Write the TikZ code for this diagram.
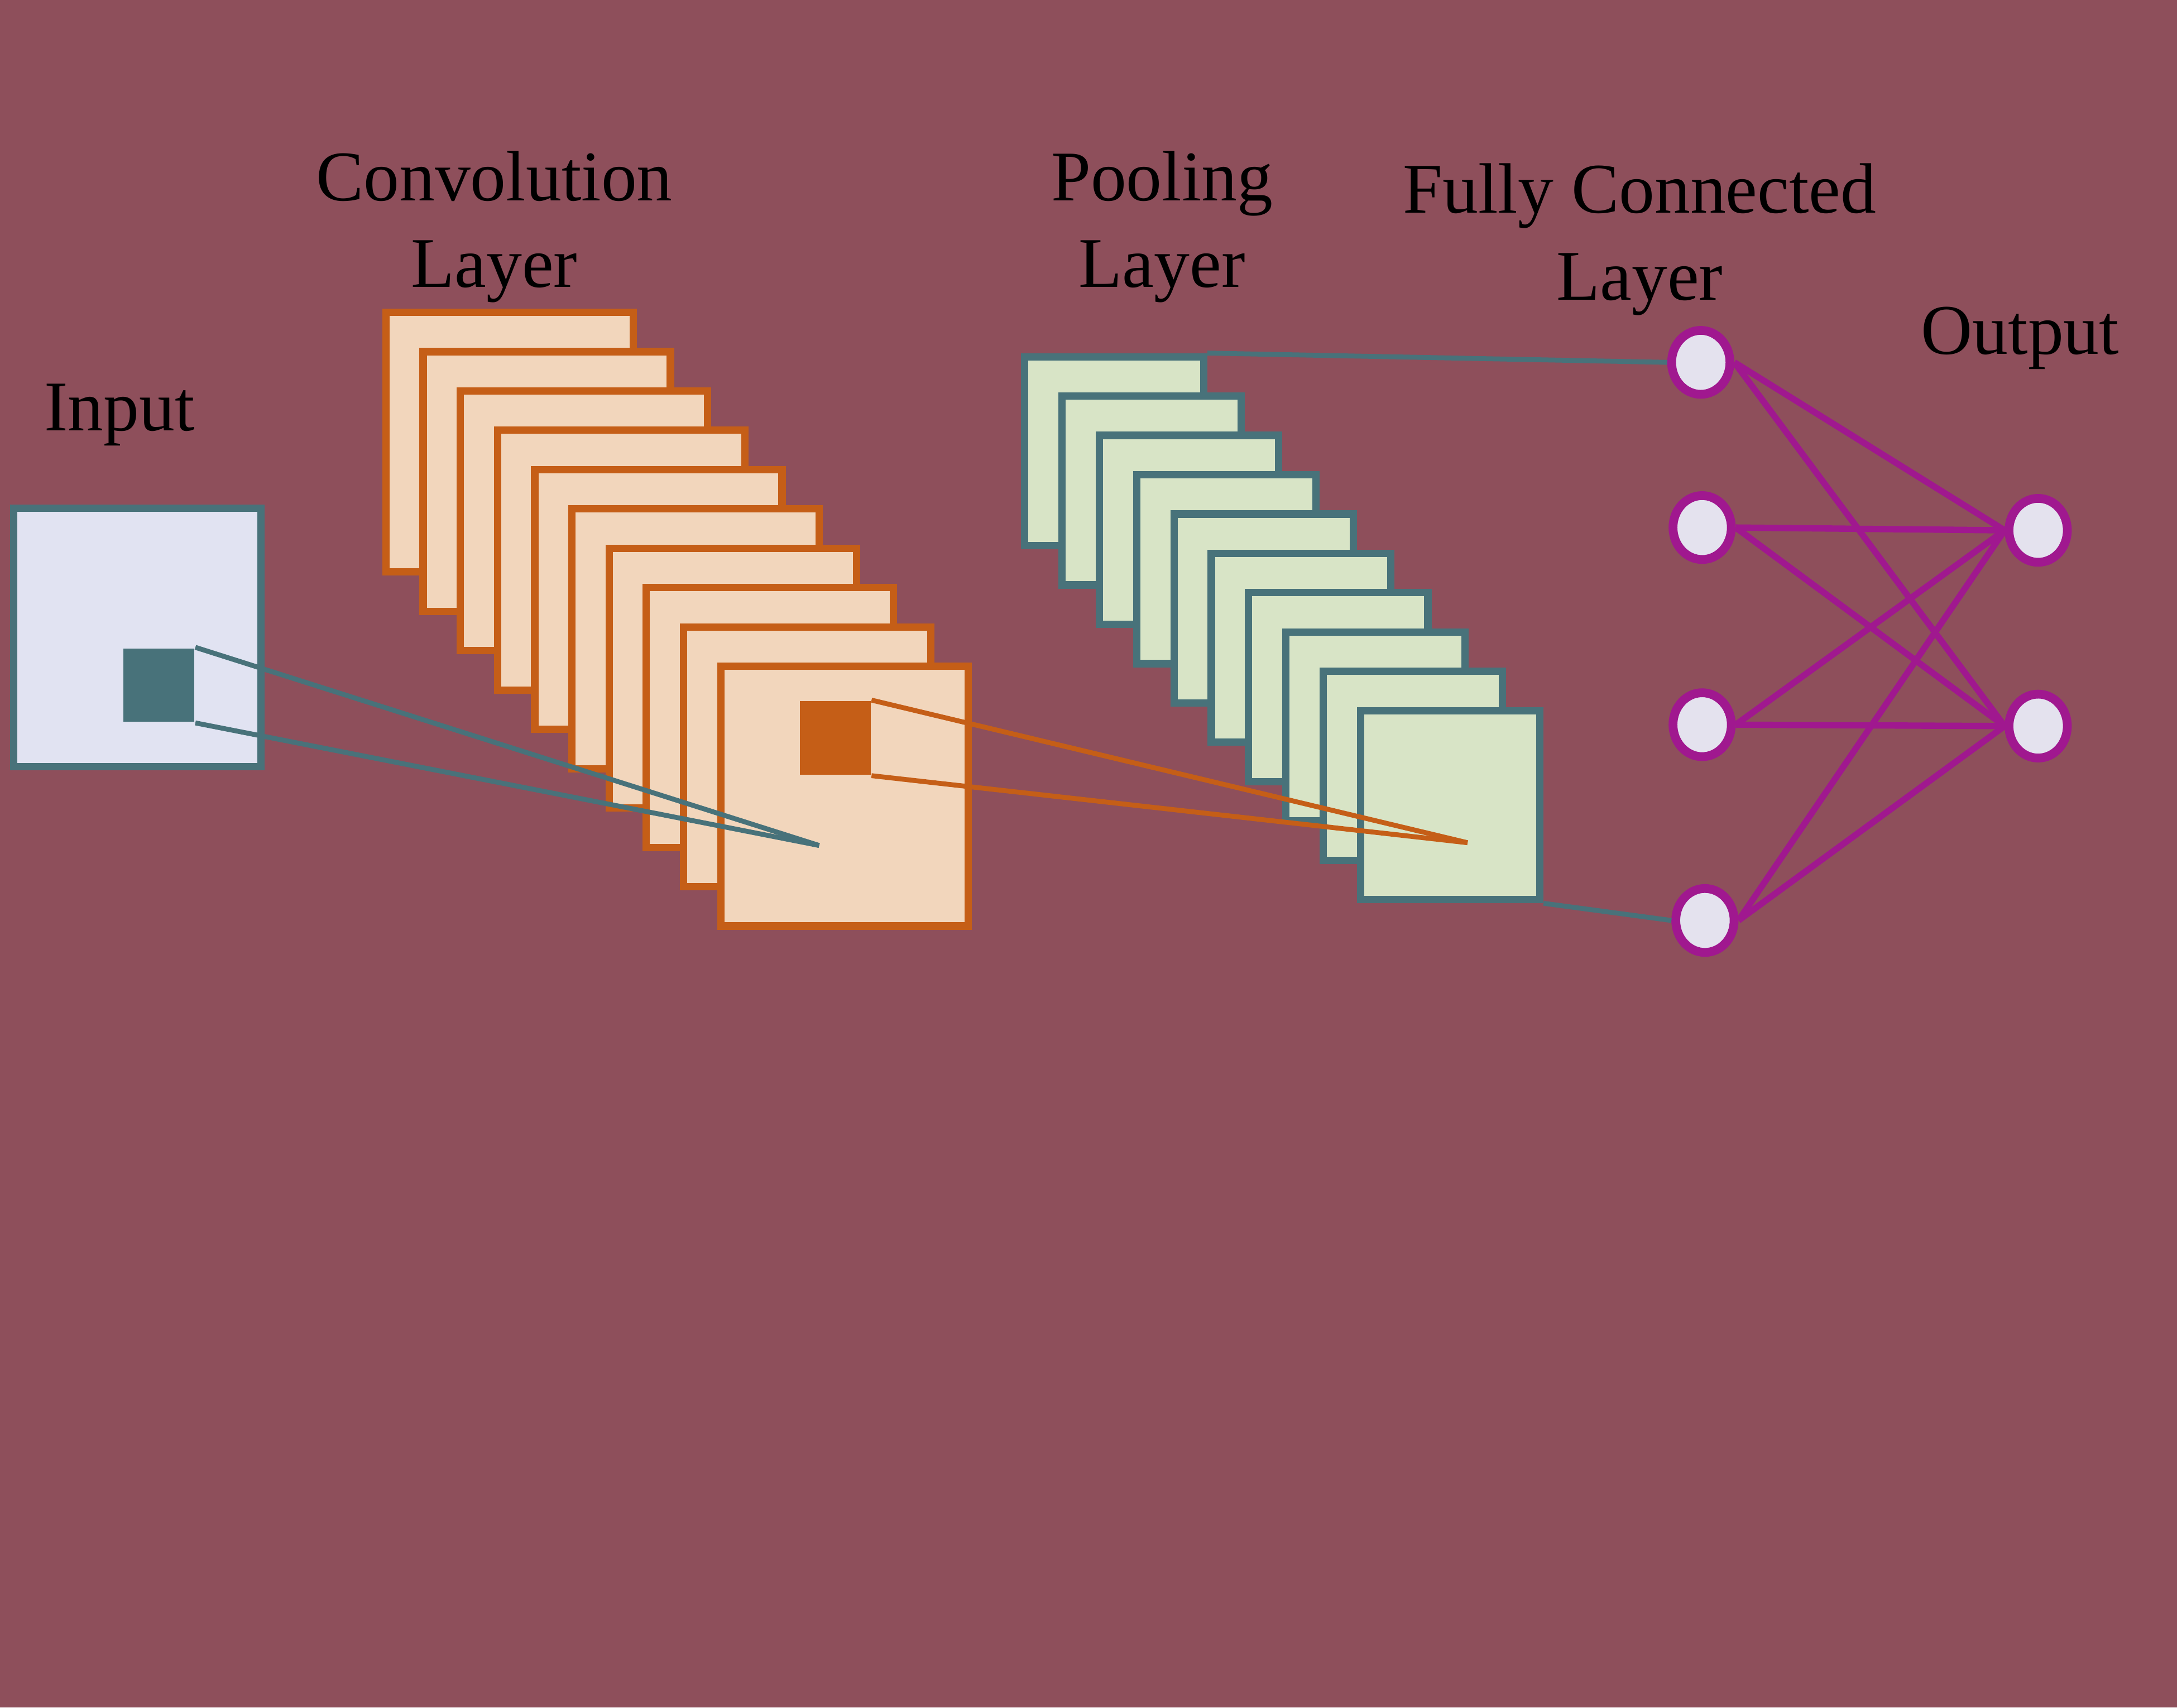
\documentclass[tikz,border=0pt]{standalone}
\usepackage{fontspec}
\setmainfont{Liberation Serif}
\usetikzlibrary{shapes.geometric}
\definecolor{bgc}{RGB}{142,79,91}
\definecolor{inputfill}{RGB}{225,227,242}
\definecolor{tealc}{RGB}{72,114,122}
\definecolor{convfill}{RGB}{242,214,188}
\definecolor{orangec}{RGB}{197,94,23}
\definecolor{poolfill}{RGB}{216,228,198}
\definecolor{purplec}{RGB}{160,24,143}
\definecolor{nodefill}{RGB}{228,226,238}
\tikzset{
  lbl/.style={font=\fontsize{14.6}{17.8}\selectfont, align=center, inner sep=0pt, anchor=base, text=black},
  inbox/.style={draw=tealc, fill=inputfill, line width=1.5pt, minimum width=1.78cm, minimum height=1.86cm, inner sep=0pt},
  convbox/.style={draw=orangec, fill=convfill, line width=1.5pt, minimum width=1.78cm, minimum height=1.87cm, inner sep=0pt},
  poolbox/.style={draw=tealc, fill=poolfill, line width=1.5pt, minimum width=1.29cm, minimum height=1.36cm, inner sep=0pt},
  kern/.style={inner sep=0pt, minimum width=0.51cm, minimum height=0.53cm},
  neuron/.style={ellipse, draw=purplec, fill=nodefill, line width=1.8pt, minimum width=0.42cm, minimum height=0.46cm, inner sep=0pt},
  tealline/.style={draw=tealc, line width=1.0pt},
  orangeline/.style={draw=orangec, line width=1.0pt},
  purpleline/.style={draw=purplec, line width=1.3pt}
}
\begin{document}
\begin{tikzpicture}[x=0.01cm, y=-0.01cm]
\fill[bgc] (0,0) rectangle (1568,1230);
\useasboundingbox (0,0) rectangle (1568,1230);

% labels
\node[lbl] (tconv) at (356,207) {Convolution\\Layer};
\node[lbl] (tpool) at (837,207) {Pooling\\Layer};
\node[lbl] (tfc) at (1181,216) {Fully Connected\\Layer};
\node[lbl] (tout) at (1455,255) {Output};
\node[lbl] (tin) at (86,310) {Input};

% input
\node[inbox] (in) at (99,459) {};
\node[kern, fill=tealc] (k1) at (114.5,493.5) {};

% convolution layers
\foreach \i in {0,...,9} {
  \node[convbox] (c\i) at ({367+26.8*\i},{318.5+28.33*\i}) {};
}
\coordinate (cp) at (590,609);
\draw[tealline] (k1.north east) -- (cp);
\draw[tealline] (k1.south east) -- (cp);
\node[kern, fill=orangec] (k2) at (601.5,531.5) {};

% pooling layers
\foreach \i in {0,...,9} {
  \node[poolbox] (p\i) at ({802.5+26.9*\i},{325+28.33*\i}) {};
}
\coordinate (pp) at (1057,607);
\draw[orangeline] (k2.north east) -- (pp);
\draw[orangeline] (k2.south east) -- (pp);

% fully connected
\node[neuron] (f1) at (1225,261) {};
\node[neuron] (f2) at (1226,380) {};
\node[neuron] (f3) at (1226,522) {};
\node[neuron] (f4) at (1228,663) {};
\node[neuron] (o1) at (1468,382) {};
\node[neuron] (o2) at (1468,523) {};

\draw[tealline] (p0.north east) -- (f1.west);
\draw[tealline] (p9.south east) -- (f4.west);

\foreach \f in {f1,f2,f3,f4} {
  \foreach \o in {o1,o2} {
    \draw[purpleline] (\f.east) -- (\o.west);
  }
}
\end{tikzpicture}
\end{document}
